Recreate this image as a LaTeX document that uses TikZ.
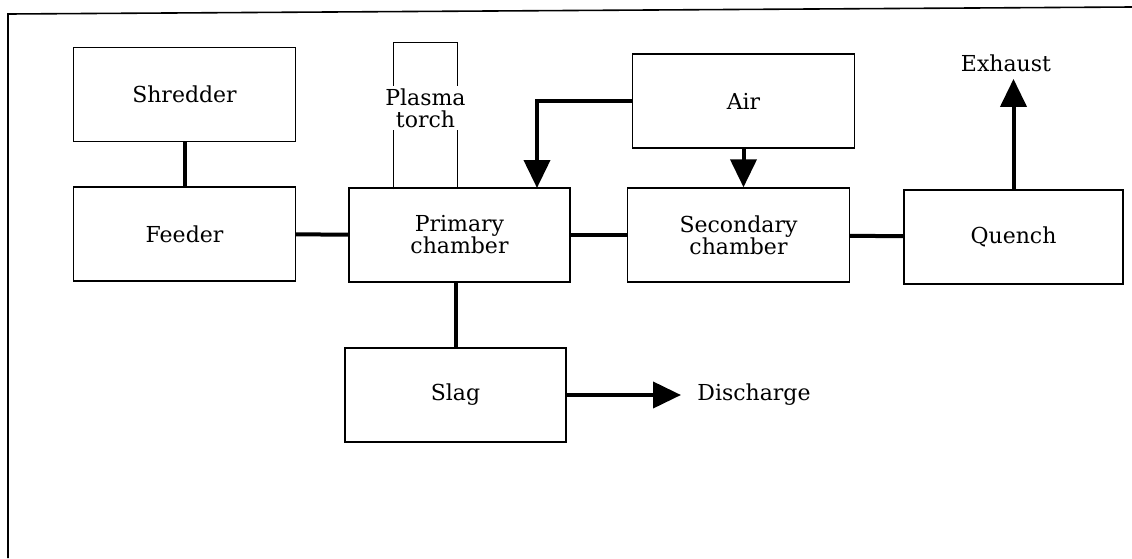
\documentclass[tikz,border=0pt]{standalone}
\usepackage{fontspec}
\setmainfont{DejaVu Serif}
\usepackage{tikz}
\usetikzlibrary{arrows.meta, positioning}

\begin{document}
\begin{tikzpicture}[x=0.5pt, y=-0.5pt,
    box/.style={draw, line width=0.7pt, rectangle, inner sep=0pt,
                minimum width=111pt, minimum height=47pt,
                align=center, font=\fontsize{11}{11}\selectfont},
    txt/.style={inner sep=0pt, font=\fontsize{11}{11}\selectfont},
    link/.style={line width=2pt},
    flow/.style={line width=2pt, -{Triangle[length=14pt, width=13pt]}}]
                \useasboundingbox (0,0) rectangle (1132,558);

                % Frame
                \draw[line width=0.8pt] (8,558) -- (8,14) -- (1132,7);

                % Boxes
                \node[box] (shredder) at (184.5,94.5) {Shredder};
                \node[box] (feeder) at (184.5,234) {Feeder};
                \node[box, minimum width=110.5pt] (primary) at (459.5,235) {Primary\\chamber};
                \node[box] (air) at (743.5,101) {Air};
                \node[box] (secondary) at (738.5,235) {Secondary\\chamber};
                \node[box, minimum width=109.5pt] (quench) at (1013.5,237) {Quench};
                \node[box, minimum width=110.5pt] (slag) at (455.5,395) {Slag};

                % Plasma torch
                \node[inner sep=0pt, minimum width=31.5pt, minimum height=73pt] (torch) at (425.5,116) {};
                \draw[line width=0.6pt] (torch.south west) |- (torch.north) -| (torch.south east);
                \node[txt, fill=white, inner sep=1pt, align=center] (torchtext) at (425.5,108) {Plasma\\torch};

                % Labels
                \node[txt] (exhaust) at (1006,63) {Exhaust};
                \node[txt, anchor=west] (discharge) at (697,395) {Discharge};
                \coordinate (airin) at (537,188);

                % Connectors
                \draw[link] (shredder) -- (feeder);
                \draw[link] (feeder) -- (primary);
                \draw[link] (primary) -- (secondary);
                \draw[link] (secondary) -- (quench);
                \draw[link] (slag.north) -- (slag.north |- primary.south);
                \draw[flow] (air.west) -| (airin);
                \draw[flow] (air.south) -- (air.south |- secondary.north);
                \draw[flow] (quench.north) -- ([yshift=-3.5pt]quench.north |- exhaust.south);
                \draw[flow, shorten >=8pt] (slag) -- (discharge);
            \end{tikzpicture}
\end{document}
